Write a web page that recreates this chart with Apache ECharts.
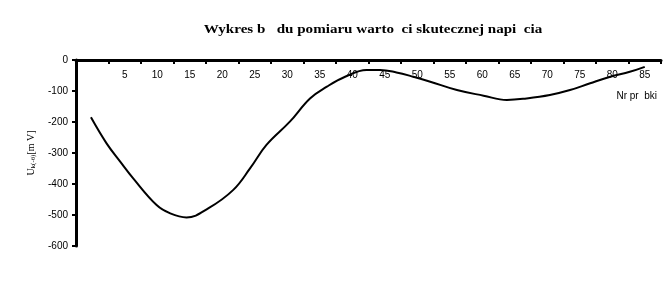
<!DOCTYPE html>
<html><head><meta charset="utf-8">
<script src="https://cdn.jsdelivr.net/npm/echarts@6/dist/echarts.min.js"></script>
<style>html,body{margin:0;padding:0;background:#fff}#c{width:663px;height:305px}</style>
</head><body><div id="c"></div>
<script>
const titleText = 'Wykres b   du pomiaru warto  ci skutecznej napi  cia';
const xName = 'Nr pr  bki';
const tickLabels = ['', '5', '10', '15', '20', '25', '30', '35', '40', '45', '50', '55', '60', '65', '70', '75', '80', '85'];
const sampleX = [2.3, 4.7, 6.8, 8.8, 12.4, 14.5, 17.0, 20.4, 24.2, 26.8, 29.3, 32.9, 36.0, 38.6, 41.4, 44.7, 46.8, 49.3, 51.9, 54.5, 58.6, 62.7, 66.3, 69.3, 72.9, 76.0, 79.1, 82.2, 85.2, 87.5];
const errorMV = [-185, -269, -328, -382, -468, -495, -508, -478, -419, -349, -274, -199, -124, -86, -54, -32, -32, -40, -54, -70, -97, -115, -129, -124, -113, -97, -75, -54, -38, -22];

const chart = echarts.init(document.getElementById('c'), null, {renderer: 'canvas'});
chart.setOption({
  animation: false,
  backgroundColor: '#fff',
  grid: {left: 76, right: 2, top: 60, bottom: 59, containLabel: false},
  graphic: [
    {type: 'text', x: 373, y: 30, scaleX: 1.16, style: {text: titleText, font: 'bold 13px "Liberation Serif"', fill: '#000', textAlign: 'center', textVerticalAlign: 'middle'}},
    {type: 'text', right: 6, top: 91, style: {text: xName, font: '10px "Liberation Sans"', fill: '#000'}}
  ],
  xAxis: [
    {type: 'category', data: tickLabels, position: 'top', boundaryGap: true,
     axisLine: {show: true, onZero: false, lineStyle: {color: '#000', width: 3}},
     axisTick: {show: true, inside: true, length: 4, lineStyle: {color: '#000', width: 2}, alignWithLabel: false},
     axisLabel: {inside: true, interval: 0, color: '#000', fontSize: 10, fontFamily: 'Liberation Sans', margin: 10},
     splitLine: {show: false}},
    {type: 'value', min: 0, max: 90, show: false}
  ],
  yAxis: {type: 'value', min: -600, max: 0, interval: 100,
    axisLine: {show: true, lineStyle: {color: '#000', width: 3}},
    axisTick: {show: true, length: 4, lineStyle: {color: '#000', width: 2}},
    axisLabel: {color: '#000', fontSize: 10, fontFamily: 'Liberation Sans', margin: 8},
    splitLine: {show: false},
    name: '{a|U}{b|k(-θ)}{a|[m V]}', nameLocation: 'middle', nameGap: 36, nameRotate: 90,
    nameTextStyle: {rich: {a: {fontSize: 10, fontFamily: 'Liberation Serif', color: '#000'}, b: {fontSize: 7, fontFamily: 'Liberation Serif', color: '#000', verticalAlign: 'bottom', padding: [4, 0, 0, 0]}}}
  },
  series: [{
    type: 'line', xAxisIndex: 1, data: sampleX.map((x, i) => [x, errorMV[i]]),
    smooth: 0.4, showSymbol: false, symbol: 'none',
    lineStyle: {color: '#000', width: 2}
  }]
});
</script></body></html>
